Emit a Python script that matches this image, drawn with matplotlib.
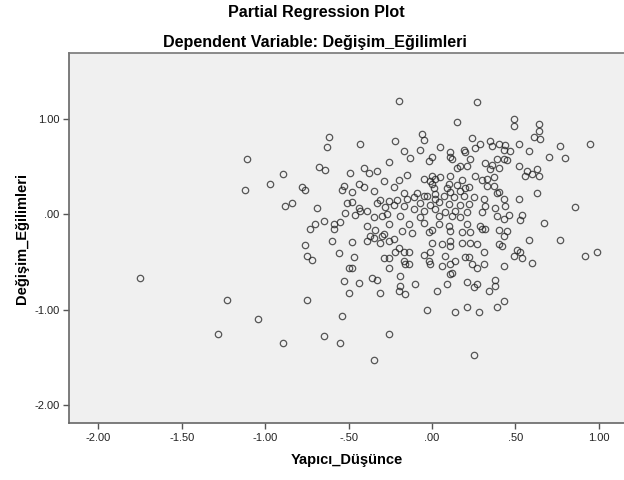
import matplotlib
matplotlib.use("Agg")
import matplotlib.pyplot as plt
from matplotlib.ticker import FuncFormatter

plt.rcParams['font.family'] = ['Liberation Sans', 'DejaVu Sans']

title_main = "Partial Regression Plot"
title_sub = "Dependent Variable: Değişim_Eğilimleri"
x_label = "Yapıcı_Düşünce"
y_label = "Değişim_Eğilimleri"

x_ticks = [-2.0, -1.5, -1.0, -0.5, 0.0, 0.5, 1.0]
y_ticks = [-2.0, -1.0, 0.0, 1.0]

# partial residuals (x: Yapıcı_Düşünce, y: Değişim_Eğilimleri)
x_resid = [
    -1.11, -0.97, -1.12, -1.75, -1.23, -1.04, -1.28, -0.62, -0.63, -0.43,
    -0.89, -0.68, -0.64, -0.49, -0.41, -0.38, -0.33, -0.26, -0.29, -0.78,
    -0.76, -0.53, -0.54, -0.44, -0.41, -0.48, -0.35, -0.88, -0.84, -0.69,
    -0.51, -0.48, -0.44, -0.52, -0.46, -0.39, -0.43, -0.33, -0.31, -0.28,
    -0.26, -0.35, -0.30, -0.65, -0.70, -0.59, -0.55, -0.39, -0.73, -0.59,
    -0.34, -0.29, -0.26, -0.37, -0.39, -0.35, -0.31, -0.26, -0.76, -0.60,
    -0.48, -0.56, -0.75, -0.72, -0.47, -0.29, -0.26, -0.50, -0.48, -0.26,
    -0.53, -0.44, -0.36, -0.33, -0.50, -0.31, -0.75, -0.54, -0.26, -0.65,
    -0.89, -0.55, -0.35, -0.20, 0.27, 0.15, -0.06, -0.05, -0.22, 0.24,
    0.05, -0.07, -0.17, 0.11, 0.11, 0.12, 0.19, 0.20, 0.26, 0.29,
    0.35, 0.36, 0.40, -0.13, 0.00, -0.02, 0.23, 0.32, 0.36, 0.39,
    0.17, 0.15, 0.21, 0.35, 0.40, -0.15, 0.00, 0.02, -0.01, 0.05,
    0.11, -0.05, 0.18, 0.26, 0.30, 0.33, 0.37, -0.20, 0.00, 0.10,
    0.15, 0.33, 0.37, -0.23, 0.01, 0.09, 0.20, 0.22, -0.17, -0.09,
    -0.05, 0.02, 0.11, 0.17, 0.19, 0.40, -0.21, -0.15, -0.11, -0.03,
    0.02, 0.07, 0.13, 0.25, 0.31, -0.23, -0.17, -0.07, -0.01, 0.04,
    0.10, 0.17, 0.22, 0.32, 0.38, -0.11, -0.05, 0.02, 0.08, 0.14,
    0.21, 0.30, -0.27, -0.19, -0.07, 0.04, 0.12, 0.17, 0.39, -0.14,
    -0.05, 0.04, 0.10, 0.21, 0.29, -0.18, -0.12, 0.00, -0.02, 0.11,
    0.18, 0.23, 0.30, 0.32, 0.40, -0.30, -0.23, 0.00, 0.06, 0.11,
    0.18, 0.23, 0.27, 0.40, -0.20, -0.22, -0.17, -0.14, -0.05, -0.01,
    0.08, 0.11, 0.14, 0.20, 0.22, 0.31, -0.17, -0.02, -0.01, -0.16,
    -0.14, 0.06, 0.11, 0.12, 0.11, 0.24, 0.27, 0.31, -0.19, -0.19,
    -0.20, -0.16, -0.10, 0.03, 0.09, 0.21, 0.25, 0.27, 0.34, 0.38,
    0.38, -0.03, 0.14, 0.21, 0.28, 0.39, 0.25, 0.49, 0.49, 0.64,
    0.64, 0.61, 0.65, 0.95, 0.77, 0.52, 0.44, 0.43, 0.47, 0.58,
    0.70, 0.80, 0.43, 0.45, 0.52, 0.57, 0.63, 0.56, 0.60, 0.64,
    0.39, 0.43, 0.52, 0.63, 0.86, 0.44, 0.43, 0.46, 0.54, 0.53,
    0.67, 0.45, 0.43, 0.42, 0.58, 0.77, 0.51, 0.53, 0.49, 0.54,
    0.60, 0.92, 0.99, 0.43, 0.43,
]
y_resid = [
    0.58, 0.32, 0.25, -0.67, -0.90, -1.10, -1.25, 0.81, 0.70, 0.73,
    0.42, 0.49, 0.46, 0.43, 0.48, 0.43, 0.45, 0.55, 0.35, 0.28,
    0.25, 0.30, 0.25, 0.32, 0.29, 0.23, 0.24, 0.09, 0.12, 0.06,
    0.12, 0.13, 0.06, 0.01, -0.01, 0.03, 0.03, 0.12, 0.15, 0.08,
    0.14, -0.03, -0.02, -0.07, -0.10, -0.10, -0.08, -0.12, -0.15, -0.15,
    -0.16, -0.21, -0.10, -0.23, -0.28, -0.25, -0.30, -0.28, -0.32, -0.28,
    -0.29, -0.41, -0.44, -0.48, -0.45, -0.46, -0.46, -0.56, -0.56, -0.56,
    -0.70, -0.72, -0.67, -0.69, -0.82, -0.82, -0.90, -1.06, -1.25, -1.27,
    -1.35, -1.35, -1.52, 1.18, 1.17, 0.96, 0.84, 0.78, 0.77, 0.80,
    0.70, 0.67, 0.66, 0.65, 0.60, 0.58, 0.67, 0.65, 0.69, 0.74,
    0.77, 0.71, 0.73, 0.59, 0.60, 0.56, 0.58, 0.54, 0.51, 0.58,
    0.50, 0.48, 0.50, 0.47, 0.48, 0.41, 0.40, 0.37, 0.35, 0.39,
    0.40, 0.37, 0.36, 0.40, 0.36, 0.37, 0.39, 0.36, 0.32, 0.32,
    0.31, 0.30, 0.30, 0.29, 0.27, 0.27, 0.27, 0.29, 0.22, 0.22,
    0.19, 0.21, 0.23, 0.24, 0.19, 0.23, 0.15, 0.16, 0.18, 0.19,
    0.16, 0.19, 0.18, 0.18, 0.16, 0.10, 0.09, 0.12, 0.10, 0.13,
    0.11, 0.10, 0.11, 0.09, 0.07, 0.05, 0.03, 0.05, 0.02, 0.03,
    0.02, 0.02, 0.00, -0.02, -0.03, -0.02, -0.02, -0.03, -0.02, -0.10,
    -0.09, -0.10, -0.12, -0.10, -0.12, -0.18, -0.20, -0.16, -0.19, -0.18,
    -0.19, -0.19, -0.15, -0.15, -0.16, -0.23, -0.26, -0.30, -0.31, -0.28,
    -0.30, -0.30, -0.31, -0.31, -0.35, -0.40, -0.39, -0.40, -0.43, -0.40,
    -0.44, -0.33, -0.49, -0.45, -0.45, -0.39, -0.49, -0.49, -0.52, -0.52,
    -0.52, -0.54, -0.52, -0.61, -0.63, -0.52, -0.56, -0.52, -0.65, -0.75,
    -0.80, -0.83, -0.73, -0.80, -0.73, -0.71, -0.76, -0.73, -0.80, -0.69,
    -0.75, -1.00, -1.02, -0.97, -1.02, -0.97, -1.47, 1.00, 0.92, 0.94,
    0.87, 0.81, 0.79, 0.74, 0.71, 0.73, 0.72, 0.67, 0.66, 0.66,
    0.60, 0.59, 0.58, 0.57, 0.50, 0.45, 0.47, 0.40, 0.42, 0.40,
    0.22, 0.16, 0.16, 0.22, 0.08, 0.09, -0.05, -0.01, -0.01, -0.06,
    -0.09, -0.18, -0.23, -0.33, -0.27, -0.27, -0.37, -0.40, -0.44, -0.46,
    -0.51, -0.44, -0.40, -0.54, -0.91,
]


def spss_fmt(v, pos=None):
    s = f"{v:.2f}"
    if s.startswith("0."):
        s = s[1:]
    elif s.startswith("-0."):
        s = "-" + s[2:]
    return s


fig = plt.figure(figsize=(6.24, 4.8), dpi=100)
ax = fig.add_axes([0.111, 0.118, 0.889, 0.772])
ax.set_facecolor('#f0f0f0')

ax.plot(x_resid, y_resid, linestyle='none', marker='o', markersize=4.6,
        markerfacecolor='none', markeredgecolor='#222222', markeredgewidth=0.9,
        alpha=0.75)

ax.set_xlim(-2.174, 1.151)
ax.set_ylim(-2.188, 1.689)
ax.set_xticks(x_ticks)
ax.set_yticks(y_ticks)
ax.xaxis.set_major_formatter(FuncFormatter(spss_fmt))
ax.yaxis.set_major_formatter(FuncFormatter(spss_fmt))
ax.tick_params(direction='out', length=4, width=1, color='#555555',
               labelsize=8, labelcolor='#222222', pad=3)

for side in ['left', 'bottom']:
    ax.spines[side].set_color('#666666')
    ax.spines[side].set_linewidth(1.2)
ax.spines['top'].set_color('#777777')
ax.spines['top'].set_linewidth(1.2)
ax.spines['right'].set_visible(False)

ax.set_xlabel(x_label, fontsize=10.5, fontweight='bold', labelpad=7)
ax.set_ylabel(y_label, fontsize=10.5, fontweight='bold', labelpad=4)

fig.text(0.507, 0.975, title_main, ha='center', va='center',
         fontsize=11.6, fontweight='bold')
fig.text(0.505, 0.9125, title_sub, ha='center', va='center',
         fontsize=11.6, fontweight='bold')

fig.savefig('out.png', dpi=100)
